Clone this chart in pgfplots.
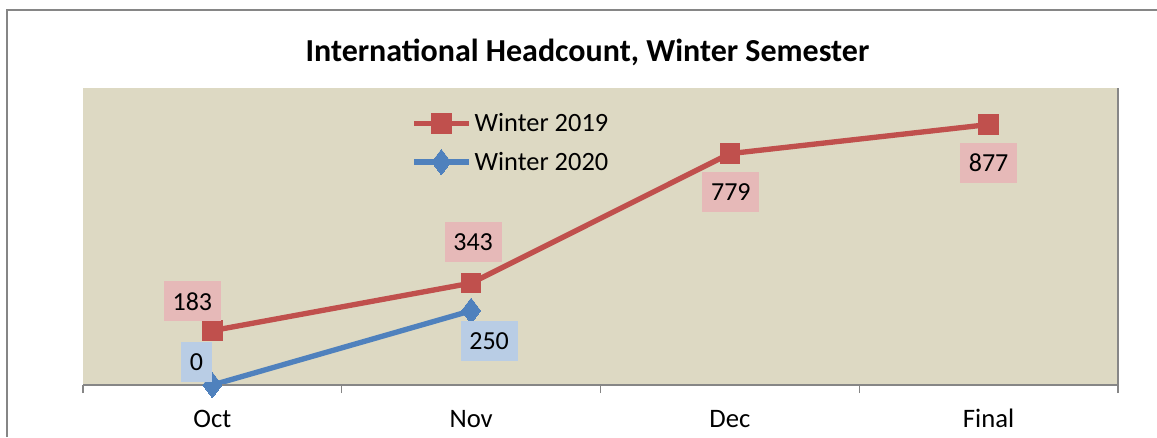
\documentclass[border=0pt]{standalone}
\usepackage{pgfplots}
\pgfplotsset{compat=1.18}
\usepackage{pgfplotstable}
\usepackage{fontspec}
\setmainfont{Carlito}
\definecolor{redS}{HTML}{C0504D}
\definecolor{blueS}{HTML}{4F81BD}
\definecolor{bgS}{HTML}{DDD9C3}
\definecolor{redL}{HTML}{E6B9B8}
\definecolor{blueL}{HTML}{B9CDE5}
\definecolor{frameS}{HTML}{868686}
\pgfplotstableread{
x y dx dy
0 183 -15 22
1 343 1.5 31
2 779 0.75 -28.5
3 877 0 -28.5
}\wintera
\pgfplotstableread{
x y dx dy
0 0 -12 17
1 250 13.5 -23
}\winterb
\begin{document}
\begin{tikzpicture}
\useasboundingbox (0,0) rectangle (867.75pt,327.75pt);
\draw[frameS, line width=1.5pt] (5.25pt,0) -- (5.25pt,320.6pt) -- (867.75pt,320.6pt);
\node[font=\fontsize{24}{28}\selectfont\bfseries] at (440.6pt,288.5pt) {International Headcount, Winter Semester};
\begin{axis}[
  at={(62.25pt,39pt)}, anchor=south west,
  scale only axis, width=776.25pt, height=222.75pt,
  xmin=-0.5, xmax=3.5, ymin=0, ymax=1000,
  axis background/.style={fill=bgS},
  axis line style={draw=none},
  ytick=\empty,
  xtick={0,1,2,3},
  xtick pos=lower,
  xticklabels={Oct,Nov,Dec,Final},
  major tick length=0pt,
  minor xtick={-0.5,0.5,1.5,2.5,3.5},
  minor tick length=6pt,
  tick align=outside,
  every tick/.style={frameS, line width=1pt},
  xticklabel style={font=\fontsize{20}{24}\selectfont, anchor=north, text height=13pt, text depth=4pt, yshift=-15pt},
  clip=false,
  /pgf/number format/assume math mode=true,
  legend style={draw=none, fill=none, at={(0.317,0.925)}, anchor=north west,
    font=\fontsize{19.8}{23}\selectfont, row sep=10pt, inner sep=0pt,
    /tikz/every odd column/.append style={column sep=0.5pt}},
  legend cell align=left,
  legend image code/.code={\draw[mark repeat=2,mark phase=2] plot coordinates {(0pt,0pt) (20.5pt,0pt) (41pt,0pt)};},
  nodes near coords={\pgfmathprintnumber{\pgfplotspointmeta}},
  point meta=explicit,
  visualization depends on={\thisrow{dx} \as \ldx},
  visualization depends on={\thisrow{dy} \as \ldy},
  every node near coord/.style={anchor=center, xshift=\ldx pt, yshift=\ldy pt,
    font=\fontsize{19.5}{23}\selectfont, text=black, minimum height=30pt, inner xsep=6.5pt, inner ysep=0pt, text depth=0pt},
]
\addplot[redS, line width=4pt, mark=square*, mark size=7.3pt, mark options={solid, line width=0pt, fill=redS},
  every node near coord/.append style={fill=redL}]
  table[x=x, y=y, meta=y] {\wintera};
\addlegendentry{Winter 2019}
\addplot[blueS, line width=4pt, mark=diamond*, mark size=9.5pt, mark options={solid, line width=0pt, fill=blueS},
  every node near coord/.append style={fill=blueL}]
  table[x=x, y=y, meta=y] {\winterb};
\addlegendentry{Winter 2020}
\draw[frameS, line width=1.5pt] (rel axis cs:0,0) -- (rel axis cs:1,0) -- (rel axis cs:1,1);
\end{axis}
\end{tikzpicture}
\end{document}
